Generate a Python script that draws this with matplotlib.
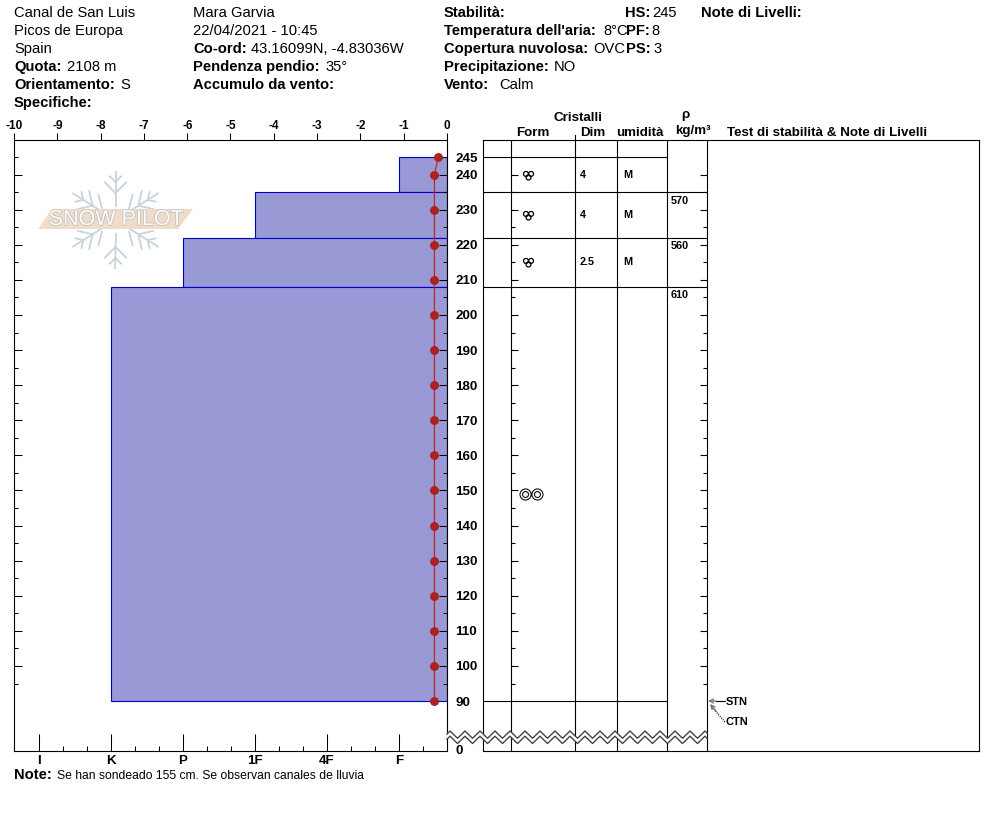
import numpy as np
import matplotlib
matplotlib.use('Agg')
import matplotlib.pyplot as plt
from matplotlib.path import Path
from matplotlib.patches import Polygon
import matplotlib.patheffects as pe

plt.rcParams['font.family'] = ['Liberation Sans', 'DejaVu Sans']

W, H = 994, 840
PX = 0.72  # points per pixel at dpi 100

# snow profile
layer_top = [245, 235, 222, 208]
layer_bottom = [235, 222, 208, 90]
layer_hardness = ['F', '1F', 'P', 'K']
layer_size = ['4', '4', '2.5', '']
layer_moisture = ['M', 'M', 'M', '']
density_top = [235, 222, 208]
density_values = [570, 560, 610]
form_depths = [240, 228.5, 215]
form_big_depth = [149]

temp_depth = [245, 240, 230, 220, 210, 200, 190, 180, 170, 160, 150, 140, 130, 120, 110, 100, 90]
temp_value = [-0.2, -0.29, -0.29, -0.29, -0.29, -0.29, -0.29, -0.29, -0.29, -0.29, -0.29, -0.29, -0.29, -0.29, -0.29, -0.29, -0.29]

hardness_labels = ['I', 'K', 'P', '1F', '4F', 'F']
temp_ticks = [-10, -9, -8, -7, -6, -5, -4, -3, -2, -1, 0]
depth_major = [100, 110, 120, 130, 140, 150, 160, 170, 180, 190, 200, 210, 220, 230, 240]
depth_minor = [95, 105, 115, 125, 135, 145, 155, 165, 175, 185, 195, 205, 215, 225, 235, 245]
depth_extra = [245, 90]

# y scale: 245 at px 157, 3.51 px per cm
Y_TOP = 245 + 17 / 3.51
Y_BOT = 245 - 594 / 3.51


def make_axes(x0, x1, y0, y1, **kw):
    return fig.add_axes([x0 / W, 1 - y1 / H, (x1 - x0) / W, (y1 - y0) / H], **kw)


fig = plt.figure(figsize=(W / 100, H / 100), dpi=100, facecolor='white')

# hardness axes carries the bars
ax = make_axes(14, 447, 140, 751)
ax.set_ylim(Y_BOT, Y_TOP)
ax.set_xlim((14 - 39) / 72, (447 - 39) / 72)
xright = ax.get_xlim()[1]
lefts = [hardness_labels.index(h) for h in layer_hardness]
tops = np.array(layer_top)
bottoms = np.array(layer_bottom)
ax.barh((tops + bottoms) / 2, xright - np.array(lefts), height=tops - bottoms, left=lefts,
        color='#9999d6', edgecolor='#0000c0', linewidth=0.8, zorder=1)
ax.set_xticks(range(len(hardness_labels)))
ax.set_xticklabels(hardness_labels, fontsize=9.6, fontweight='bold')
minor = [i / 3 for i in range(0, 18) if i % 3 != 0]
ax.set_xticks(minor, minor=True)
ax.xaxis.set_ticks_position('both')
ax.tick_params(axis='x', which='major', direction='in', length=17 * PX, width=0.75, pad=2.6, labeltop=False)
ax.tick_params(axis='x', which='minor', direction='in', length=5.5 * PX, width=0.75)
ax.set_yticks(depth_major)
ax.set_yticklabels([str(d) for d in depth_major], fontsize=9.6, fontweight='bold', va='center_baseline')
ax.set_yticks(depth_minor, minor=True)
ax.yaxis.set_ticks_position('both')
ax.tick_params(axis='y', which='major', direction='in', length=8 * PX, width=0.75, pad=6.2,
               labelleft=False, labelright=True)
ax.tick_params(axis='y', which='minor', direction='in', length=4 * PX, width=0.75)
for d in depth_extra:
    ax.text(1 + 9 / 433, d, str(d), transform=ax.get_yaxis_transform(), fontsize=9.6, fontweight='bold',
            va='center_baseline', ha='left', clip_on=False)
for s in ax.spines.values():
    s.set_linewidth(0.8)

# temperature axes on top
tx = ax.twiny()
tx.set_xlim(-10, 0)
tx.set_xticks(temp_ticks)
tx.set_xticklabels([str(t) for t in temp_ticks], fontsize=8.5, fontweight='bold')
tx.tick_params(axis='x', direction='out', length=7 * PX, width=0.75, pad=0.6)
tx.plot(temp_value, temp_depth, color='#c81e1e', linewidth=0.85, marker='o', markersize=7.5 * PX,
        markerfacecolor='#ac2020', markeredgecolor='#ac2020', clip_on=False, zorder=5)
for s in tx.spines.values():
    s.set_visible(False)

# layer table, x in pixels
tb = make_axes(483, 979, 140, 751)
tb.set_xlim(483, 979)
tb.set_ylim(Y_BOT, Y_TOP)
tb.set_xticks([])
tb.set_yticks([])
for s in tb.spines.values():
    s.set_linewidth(0.8)
tb.vlines([511, 575, 617, 667, 707], Y_BOT, Y_TOP, color='black', linewidth=0.8)
tb.hlines(245, 483, 667, color='black', linewidth=0.8)
tb.hlines(layer_top[1:], 483, 707, color='black', linewidth=0.8)
tb.hlines(90, 483, 667, color='black', linewidth=0.8)
tb.hlines(depth_major, 511, 518, color='black', linewidth=0.8)
tb.hlines(depth_minor[:-1], 511, 515, color='black', linewidth=0.8)
tb.hlines(depth_major, 700, 707, color='black', linewidth=0.8)
tb.hlines(depth_minor[:-1], 703, 707, color='black', linewidth=0.8)

clover = Path.make_compound_path(
    Path.circle((-2.4, 1.5), 2.3), Path.circle((2.4, 1.5), 2.3), Path.circle((0, -1.9), 2.3))
rings = Path.make_compound_path(
    Path.circle((-5.8, 0), 5.4), Path.circle((-5.8, 0), 2.9),
    Path.circle((5.8, 0), 5.4), Path.circle((5.8, 0), 2.9))
tb.plot([528] * len(form_depths), form_depths, linestyle='none', marker=clover, markersize=10 * PX,
        markerfacecolor='none', markeredgecolor='black', markeredgewidth=0.9)
tb.plot([530.5] * len(form_big_depth), form_big_depth, linestyle='none', marker=rings, markersize=23 * PX,
        markerfacecolor='none', markeredgecolor='#111111', markeredgewidth=0.8)
for d, size, moist in zip(form_depths, layer_size, layer_moisture):
    tb.text(580, d, size, fontsize=7.8, fontweight='bold', va='center', ha='left')
    tb.text(623, d, moist, fontsize=7.8, fontweight='bold', va='center', ha='left')
for d, rho in zip(density_top, density_values):
    tb.text(671, d - 2.4, str(rho), fontsize=7.8, fontweight='bold', va='center', ha='left')

# overlay in pixel coords for header, logo and axis break
ov = fig.add_axes([0, 0, 1, 1], zorder=10)
ov.set_xlim(0, W)
ov.set_ylim(H, 0)
ov.axis('off')


def txt(x, y, s, bold=False, size=14.7, **kw):
    ov.text(x, y + 0.8, s, fontsize=size * PX, fontweight='bold' if bold else 'normal', va='center', ha='left', **kw)


header = [
    (14, 12, 'Canal de San Luis', False), (14, 30, 'Picos de Europa', False), (14, 48, 'Spain', False),
    (14, 66, 'Quota:', True), (67, 66, '2108 m', False),
    (14, 84, 'Orientamento:', True), (120, 84, 'S', False),
    (14, 102, 'Specifiche:', True),
    (193, 12, 'Mara Garvia', False), (193, 30, '22/04/2021 - 10:45', False),
    (193, 48, 'Co-ord:', True), (251, 48, '43.16099N, -4.83036W', False),
    (193, 66, 'Pendenza pendio:', True), (325, 66, '35°', False),
    (193, 84, 'Accumulo da vento:', True),
    (444, 12, 'Stabilità:', True), (625, 12, 'HS:', True), (652, 12, '245', False),
    (701, 12, 'Note di Livelli:', True),
    (444, 30, "Temperatura dell'aria:", True), (603, 30, '8°C', False), (626, 30, 'PF:', True), (651, 30, '8', False),
    (444, 48, 'Copertura nuvolosa:', True), (593, 48, 'OVC', False), (626, 48, 'PS:', True), (653, 48, '3', False),
    (444, 66, 'Precipitazione:', True), (554, 66, 'NO', False),
    (444, 84, 'Vento:', True), (499, 84, 'Calm', False),
]
for x, y, s, b in header:
    txt(x, y, s, b)

txt(14, 774, 'Note:', True)
txt(57, 775, 'Se han sondeado 155 cm. Se observan canales de lluvia', False, 12.1)

txt(554, 117, 'Cristalli', True, 13.4)
txt(516, 132, 'Form', True, 13.4)
txt(580, 132, 'Dim', True, 13.4)
txt(616, 132, 'umidità', True, 13.4)
txt(681, 114, 'ρ', True, 13.4)
txt(675, 130, 'kg/m³', True, 13.4)
txt(727, 132, 'Test di stabilità & Note di Livelli', True, 13.4)
ov.plot([575, 575], [135, 140], color='black', lw=0.8)

# stability test arrows
ov.plot([716, 725], [701, 701], color='black', lw=0.8)
ov.plot([711, 725], [706, 722], color='black', lw=0.8, linestyle=(0, (1, 1)))
ov.annotate('', xy=(708, 701), xytext=(716, 701),
            arrowprops=dict(arrowstyle='->', color='#777777', lw=1, mutation_scale=7, shrinkA=0, shrinkB=0))
ov.annotate('', xy=(710, 704), xytext=(716, 711),
            arrowprops=dict(arrowstyle='->', color='#777777', lw=1, mutation_scale=7, shrinkA=0, shrinkB=0))
txt(726, 701, 'STN', True, 11)
txt(726, 721, 'CTN', True, 11)

# axis break zigzag
zx = np.arange(450, 707, 7.5)
zy = np.where(np.arange(len(zx)) % 2 == 0, 731.0, 738.3)
zx = np.r_[447, zx, 707]
zy = np.r_[734.0, zy, 733.0]
ov.add_patch(Polygon(np.r_[np.c_[zx, zy], np.c_[zx, zy + 5.2][::-1]], closed=True, fc='white', ec='none'))
ov.plot(zx, zy, color='#444444', lw=1.0)
ov.plot(zx, zy + 5.2, color='#444444', lw=1.0)
txt(456, 750.5, '0', True, 13.3)

# logo
cx, cy = 115.5, 220
flake = '#c6d4db'
for a in [90, 270, 32, 148, 212, 328]:
    u = np.array([np.cos(np.radians(a)), -np.sin(np.radians(a))])
    arm = 48 if a in (90, 270) else 50
    ov.plot([cx + u[0] * 14, cx + u[0] * arm], [cy + u[1] * 14, cy + u[1] * arm], color=flake, lw=1.3, zorder=1)
    for dist, barb in [(27, 15), (38, 8)]:
        p = np.array([cx, cy]) + u * dist
        for sgn in (1, -1):
            r = np.radians(a + sgn * 45)
            q = p + barb * np.array([np.cos(r), -np.sin(r)])
            ov.plot([p[0], q[0]], [p[1], q[1]], color=flake, lw=1.3, zorder=1)
for dx, dy0, dy1 in [(17, 12, 25), (-17, 12, 25)]:
    for sy in (1, -1):
        ov.plot([cx + dx, cx + dx * 0.8], [cy + sy * dy1, cy + sy * dy0], color=flake, lw=1.3, zorder=1)
ov.add_patch(Polygon([(52, 209), (193, 209), (178, 229), (38, 229)], closed=True, fc='#efdcc9', ec='none', zorder=2))
ov.text(116, 219.5, 'SNOW PILOT', fontsize=15.5, color='white', ha='center', va='center', zorder=3,
        path_effects=[pe.withStroke(linewidth=1.0, foreground='#b9b9b9')])

fig.savefig('out.png', dpi=100)
